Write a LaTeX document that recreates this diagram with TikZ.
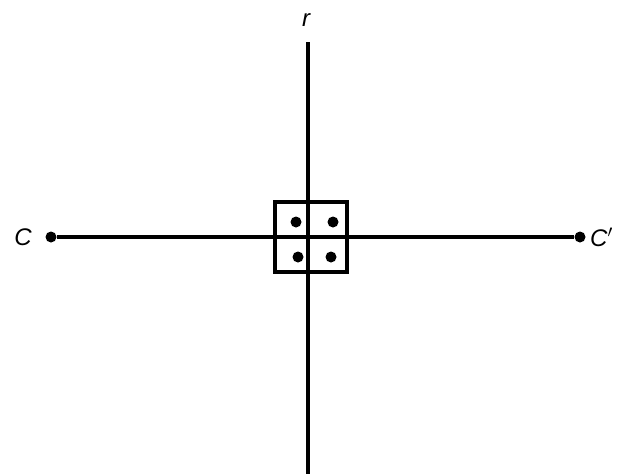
\documentclass[tikz,border=0pt]{standalone}
\usepackage{fontspec}
\setmainfont{Liberation Sans}
\newcommand{\LineW}{3.8pt}
\newcommand{\DotR}{5.5pt}
\tikzset{
	axis/.style={line width=\LineW, black},
	blob/.style={circle, fill=black, inner sep=0pt, minimum size=2*\DotR},
	lbl/.style={font=\fontsize{24}{28}\selectfont\itshape, inner sep=0pt}
}

\begin{document}
\begin{tikzpicture}[x=1pt, y=-1pt]
		\useasboundingbox (0,0) rectangle (626,474);
		
		% vertical line r
		\coordinate (rtop) at (308,42);
		\coordinate (rbot) at (308,474);
		\node[lbl] (r) at (306,20) {r};
		\draw[axis] (rtop) -- (rbot);
		
		% horizontal line C -- C'
		\node[blob] (c) at (51,237) {};
		\node[blob] (cp) at (580,237) {};
		\node[lbl, anchor=east] (clbl) at (32,237) {C};
		\node[lbl, anchor=west] (cplbl) at (590,237) {C$'$};
		\draw[axis] (c) -- (cp);
		
		% square with four dots
		\draw[line width=3.2pt] (275,202) rectangle (347,272);
		\foreach \px/\py [count=\i] in {296/222, 333/222, 298/257, 331/257}{
			\node[blob] (d\i) at (\px,\py) {};
		}
	\end{tikzpicture}
\end{document}
